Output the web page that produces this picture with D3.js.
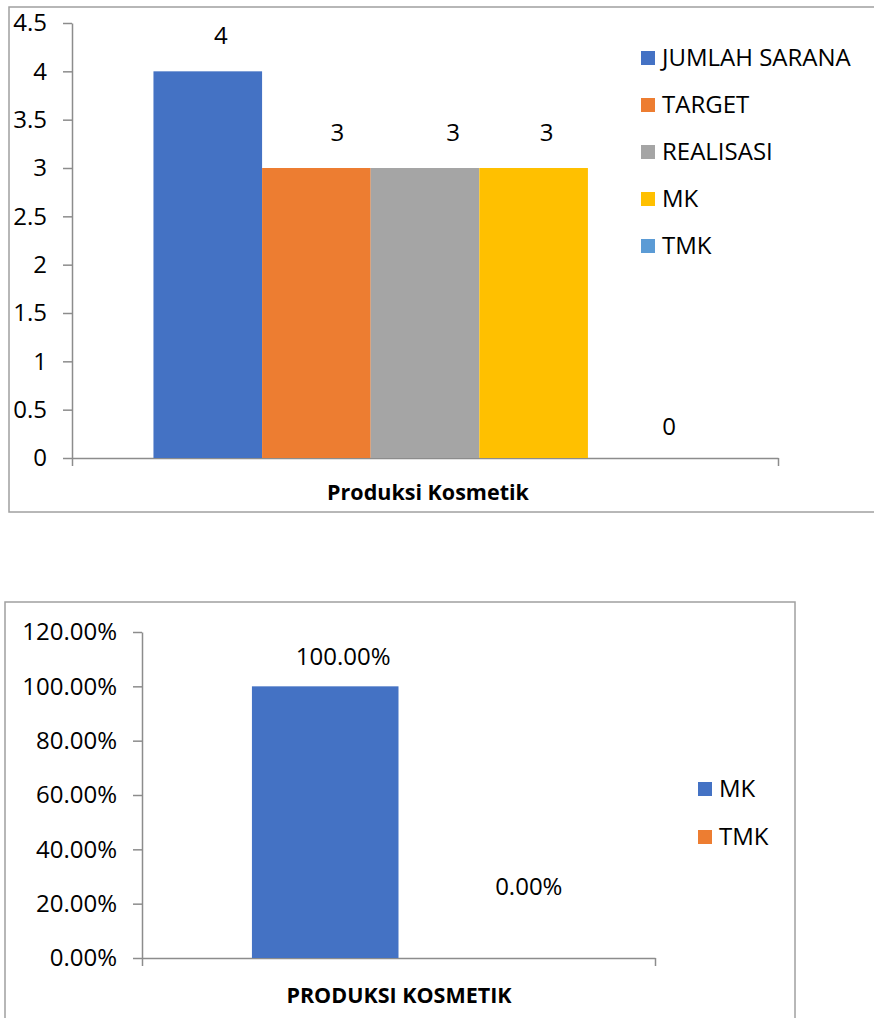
<!DOCTYPE html>
<html>
<head>
<meta charset="utf-8">
<script src="https://cdn.jsdelivr.net/npm/d3@7"></script>
<style>
  body { margin: 0; background: #fff; }
  svg text { font-family: "Open Sans", "Noto Sans", sans-serif; fill: #000; }
</style>
</head>
<body>
<svg id="page" width="874" height="1018"></svg>
<script>
// chart 1: counts
const topSeries = ['JUMLAH SARANA', 'TARGET', 'REALISASI', 'MK', 'TMK'];
const topValues = [4, 3, 3, 3, 0];
const topTicks = [0, 0.5, 1, 1.5, 2, 2.5, 3, 3.5, 4, 4.5];
const topCategory = 'Produksi Kosmetik';

// chart 2: percentages
const bottomSeries = ['MK', 'TMK'];
const bottomValues = [1, 0];
const bottomTicks = [0, 0.2, 0.4, 0.6, 0.8, 1, 1.2];
const bottomCategory = 'PRODUKSI KOSMETIK';

const svg = d3.select('#page');
const gridGray = '#8c8c8c';

function drawChart(opt) {
    const g = svg.append('g');

    // outer frame
    g.append('rect')
        .attr('x', opt.frame[0]).attr('y', opt.frame[1])
        .attr('width', opt.frame[2]).attr('height', opt.frame[3])
        .attr('fill', 'none').attr('stroke', '#a0a0a0').attr('stroke-width', 1.5);

    const y = d3.scaleLinear().domain([0, d3.max(opt.ticks)]).range([opt.bottom, opt.top]);
    const x = d3.scaleBand().domain(opt.series).range([opt.left, opt.right])
        .paddingInner(0).paddingOuter(0.75);
    const xEdge = d3.scaleLinear().domain([0, 1]).range([opt.left, opt.right]);

    const yAxis = d3.axisLeft(y)
        .tickValues(opt.ticks)
        .tickSize(9)
        .tickSizeOuter(0)
        .tickPadding(16)
        .tickFormat(opt.format);
    const ya = g.append('g')
        .attr('transform', 'translate(' + opt.left + ',0)')
        .call(yAxis);
    ya.selectAll('path, line').attr('stroke', gridGray).attr('stroke-width', 1.5);
    ya.selectAll('text').attr('font-size', opt.fontSize).attr('fill', '#000')
        .style('font-family', '"Open Sans", sans-serif');

    const xAxis = d3.axisBottom(xEdge)
        .tickValues([0, 1])
        .tickSize(8)
        .tickSizeOuter(0)
        .tickFormat('');
    const xa = g.append('g')
        .attr('transform', 'translate(0,' + opt.bottom + ')')
        .call(xAxis);
    xa.selectAll('path, line').attr('stroke', gridGray).attr('stroke-width', 1.5);

    g.selectAll('.bar')
        .data(opt.values)
        .enter().append('rect')
        .attr('class', 'bar')
        .attr('x', function(d, i) { return x(opt.series[i]); })
        .attr('width', x.bandwidth())
        .attr('y', function(d) { return y(d); })
        .attr('height', function(d) { return opt.bottom - y(d); })
        .attr('fill', function(d, i) { return opt.colors[i]; });

    // value labels, nudged like the hand-placed ones in the original
    g.selectAll('.lbl')
        .data(opt.values)
        .enter().append('text')
        .attr('class', 'lbl')
        .attr('x', function(d, i) { return x(opt.series[i]) + x.bandwidth() / 2 + opt.nudge[i][0]; })
        .attr('y', function(d, i) { return y(d) - opt.nudge[i][1]; })
        .attr('dy', '0.35em')
        .attr('text-anchor', 'middle')
        .attr('font-size', opt.fontSize)
        .text(opt.format);

    g.append('text')
        .attr('x', opt.titleX)
        .attr('y', opt.titleY)
        .attr('dy', '0.35em')
        .attr('text-anchor', 'middle')
        .attr('font-size', 21.5)
        .attr('font-weight', 'bold')
        .text(opt.category);

    const leg = g.selectAll('.leg')
        .data(opt.series)
        .enter().append('g')
        .attr('class', 'leg')
        .attr('transform', function(d, i) {
            return 'translate(' + opt.legendX + ',' + (opt.legendY + i * opt.legendStep) + ')';
        });
    leg.append('rect')
        .attr('x', 0).attr('y', -7)
        .attr('width', 14).attr('height', 14)
        .attr('fill', function(d, i) { return opt.colors[i]; });
    leg.append('text')
        .attr('x', 21).attr('dy', '0.35em')
        .attr('font-size', opt.fontSize)
        .text(function(d) { return d; });
}

drawChart({
    series: topSeries, values: topValues, ticks: topTicks, category: topCategory,
    colors: ['#4472c4', '#ed7d31', '#a5a5a5', '#ffc000', '#5b9bd5'],
    format: function(d) { return String(d); },
    frame: [9, 7, 880, 505],
    left: 72, right: 778, top: 23, bottom: 458,
    nudge: [[13, 36], [21, 35], [28, 35], [13, 35], [27, 31]],
    titleX: 428, titleY: 492, fontSize: 24,
    legendX: 641, legendY: 58, legendStep: 47
});

drawChart({
    series: bottomSeries, values: bottomValues, ticks: bottomTicks, category: bottomCategory,
    colors: ['#4472c4', '#ed7d31'],
    format: d3.format('.2%'),
    frame: [5, 602, 790, 430],
    left: 142, right: 655, top: 632, bottom: 958,
    nudge: [[18, 30], [57, 71]],
    titleX: 399, titleY: 995, fontSize: 24,
    legendX: 698, legendY: 789, legendStep: 48
});
</script>
</body>
</html>
